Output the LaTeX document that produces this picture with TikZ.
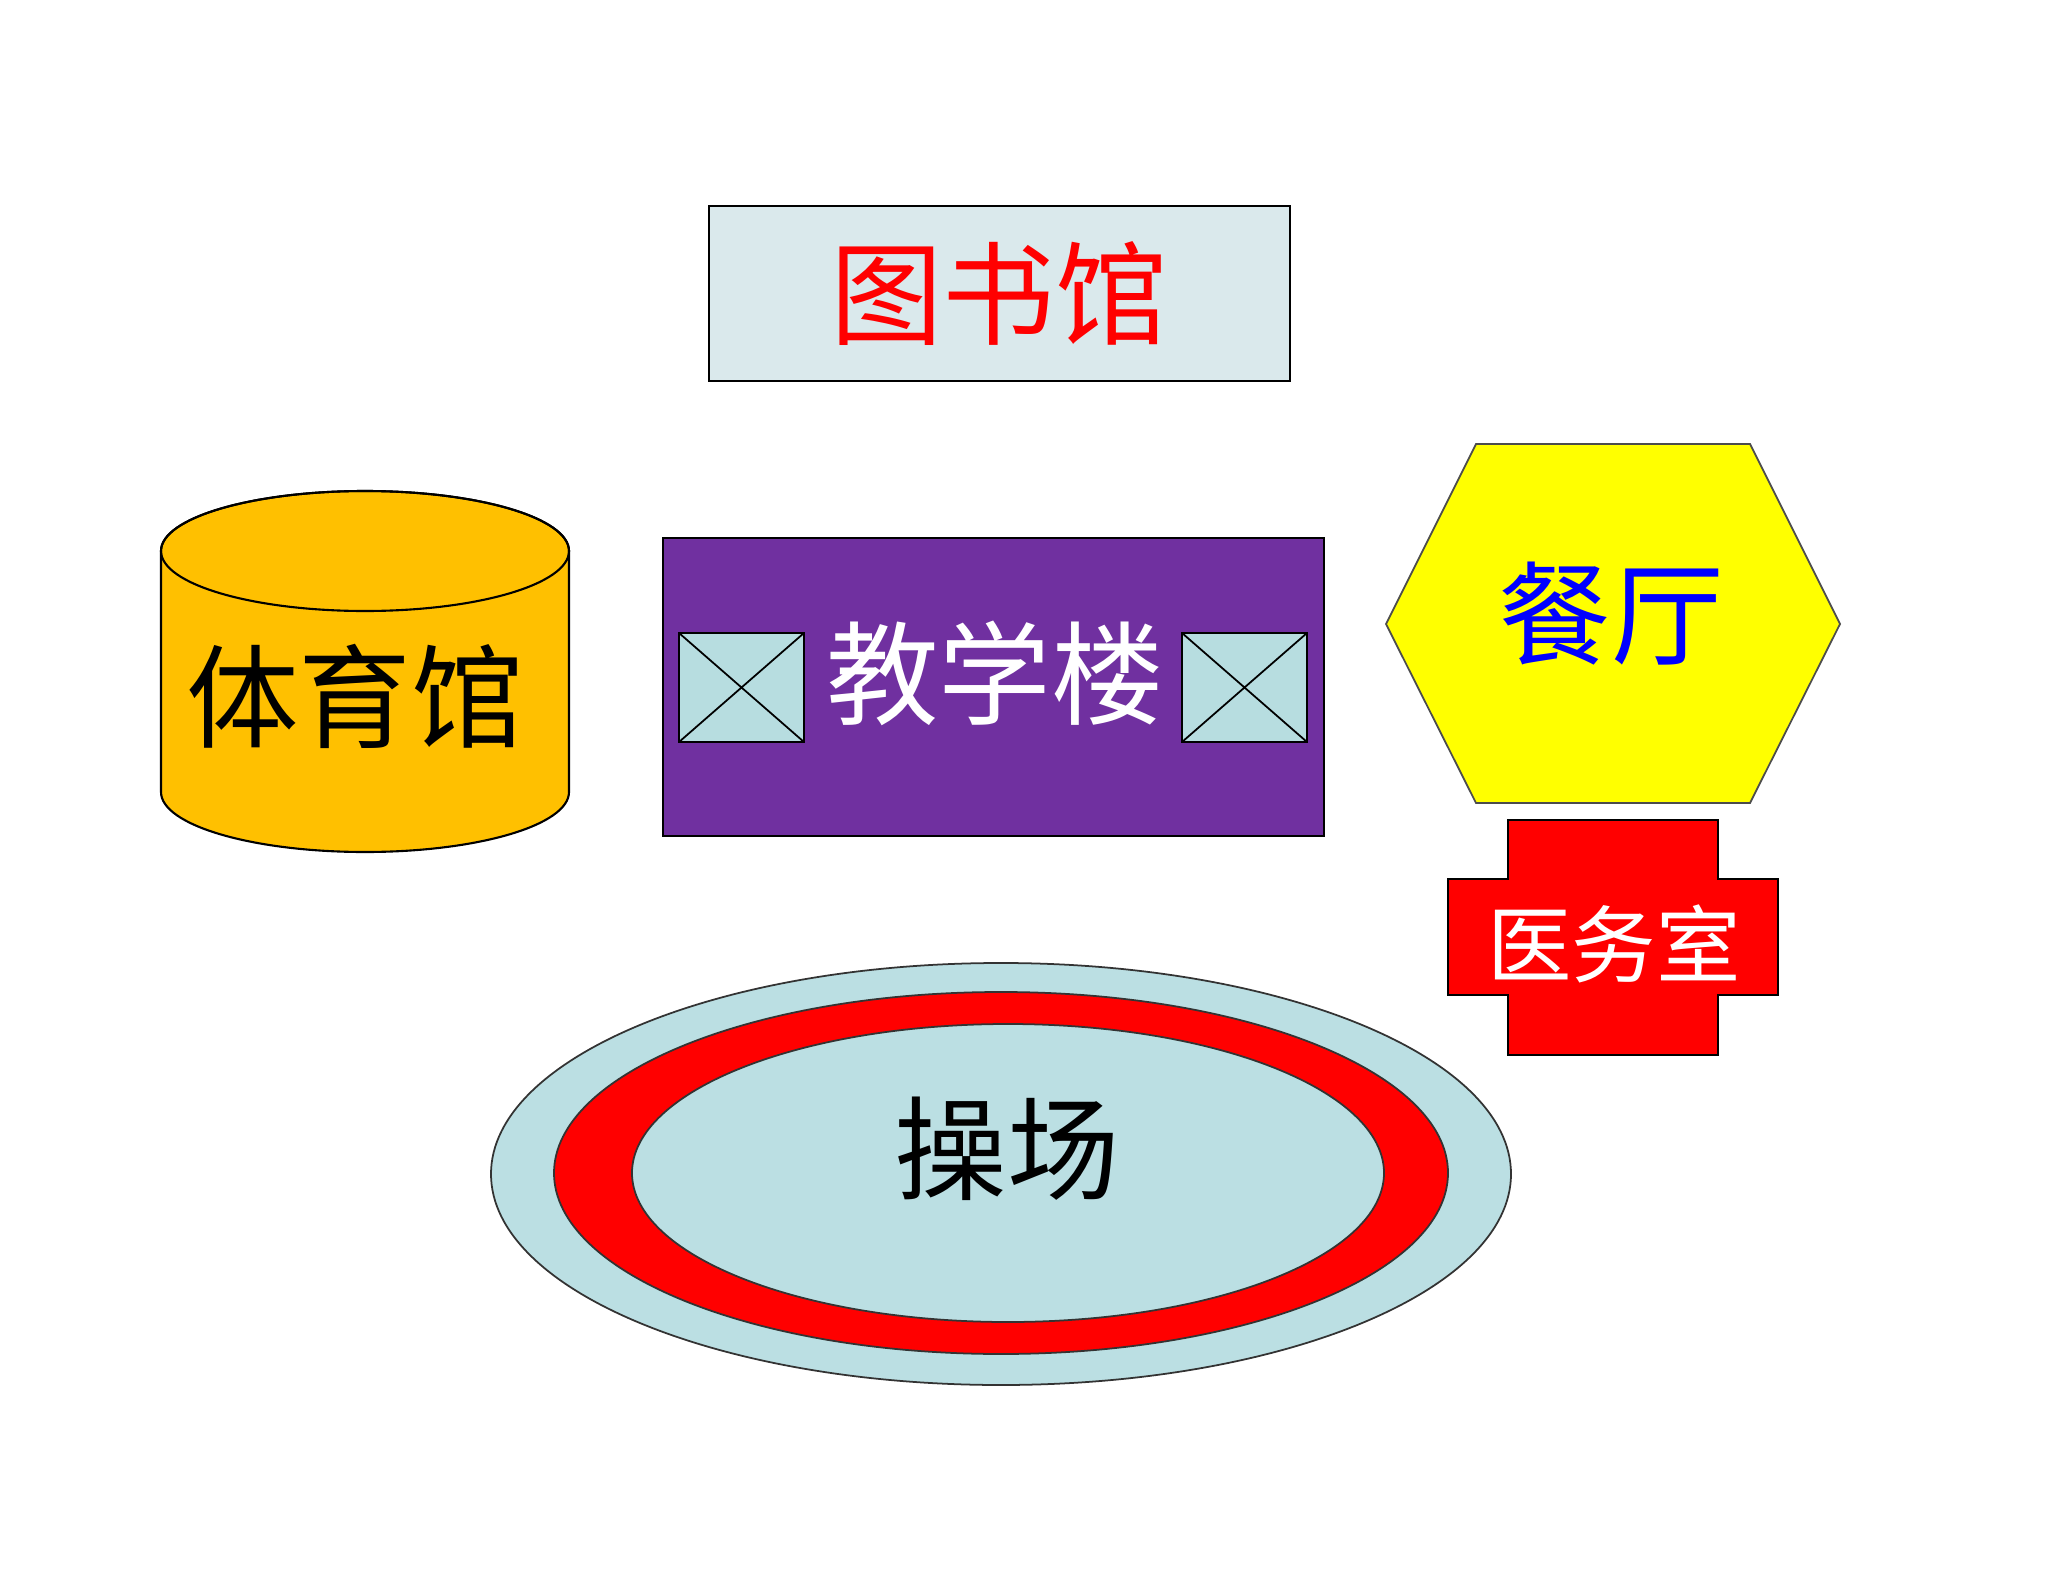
\documentclass[tikz,border=0pt]{standalone}
\usepackage{fontspec}
\setmainfont{Noto Sans CJK SC}
\definecolor{libfill}{HTML}{DAE9EC}
\definecolor{gymfill}{HTML}{FFC000}
\definecolor{purplefill}{HTML}{7030A0}
\definecolor{winfill}{HTML}{B7DDE0}
\definecolor{fieldfill}{HTML}{BBDFE3}
\definecolor{pureyellow}{HTML}{FFFF00}
\tikzset{
  outline/.style={draw=black, line width=0.6pt},
  bigtext/.style={font=\fontsize{32}{36}\selectfont, inner sep=0pt},
  smalltext/.style={font=\fontsize{24}{28}\selectfont, inner sep=0pt},
}
\begin{document}
\begin{tikzpicture}[x={(0.01cm,0)}, y={(0,-0.01cm)}]
\useasboundingbox[fill=white] (0,0) rectangle (2048,1582);
% library
\filldraw[outline, fill=libfill] (709,206) rectangle (1290,381);
\node[bigtext, text=red] (lib) at (999,294) {图书馆};
% gym cylinder
\filldraw[outline, fill=gymfill] (161,551) -- (161,792)
  arc[start angle=180, end angle=0, x radius=204, y radius=60]
  -- (569,551)
  arc[start angle=360, end angle=180, x radius=204, y radius=60] -- cycle;
\draw[outline] (365,551) ellipse [x radius=204, y radius=60];
\node[bigtext, text=black] (gym) at (355,696) {体育馆};
% teaching building
\filldraw[outline, fill=purplefill] (663,538) rectangle (1324,836);
\filldraw[outline, fill=winfill] (679,633) rectangle (804,742);
\draw[line width=0.5pt] (679,633) -- (804,742) (679,742) -- (804,633);
\filldraw[outline, fill=winfill] (1182,633) rectangle (1307,742);
\draw[line width=0.5pt] (1182,633) -- (1307,742) (1182,742) -- (1307,633);
\node[bigtext, text=white] (teach) at (995,673) {教学楼};
% canteen hexagon
\filldraw[draw=black!70, line width=0.5pt, fill=pureyellow] (1476,444) -- (1750,444) -- (1840,624) -- (1750,803) -- (1476,803) -- (1386,624) -- cycle;
\node[bigtext, text=blue] (canteen) at (1611,614) {餐厅};
% clinic cross
\filldraw[outline, fill=red] (1508,820) -- (1718,820) -- (1718,879) -- (1778,879) -- (1778,995) -- (1718,995) -- (1718,1055) -- (1508,1055) -- (1508,995) -- (1448,995) -- (1448,879) -- (1508,879) -- cycle;
\node[smalltext, text=white] (clinic) at (1614,944) {医务室};
% playground
\filldraw[draw=black!80, line width=0.5pt, fill=fieldfill] (1001,1174) ellipse [x radius=510, y radius=211];
\filldraw[draw=black!80, line width=0.5pt, fill=red] (1001,1173) ellipse [x radius=447, y radius=181];
\filldraw[draw=black!80, line width=0.5pt, fill=fieldfill] (1008,1173) ellipse [x radius=376, y radius=149];
\node[bigtext, text=black] (field) at (1007,1149) {操场};
\end{tikzpicture}
\end{document}
